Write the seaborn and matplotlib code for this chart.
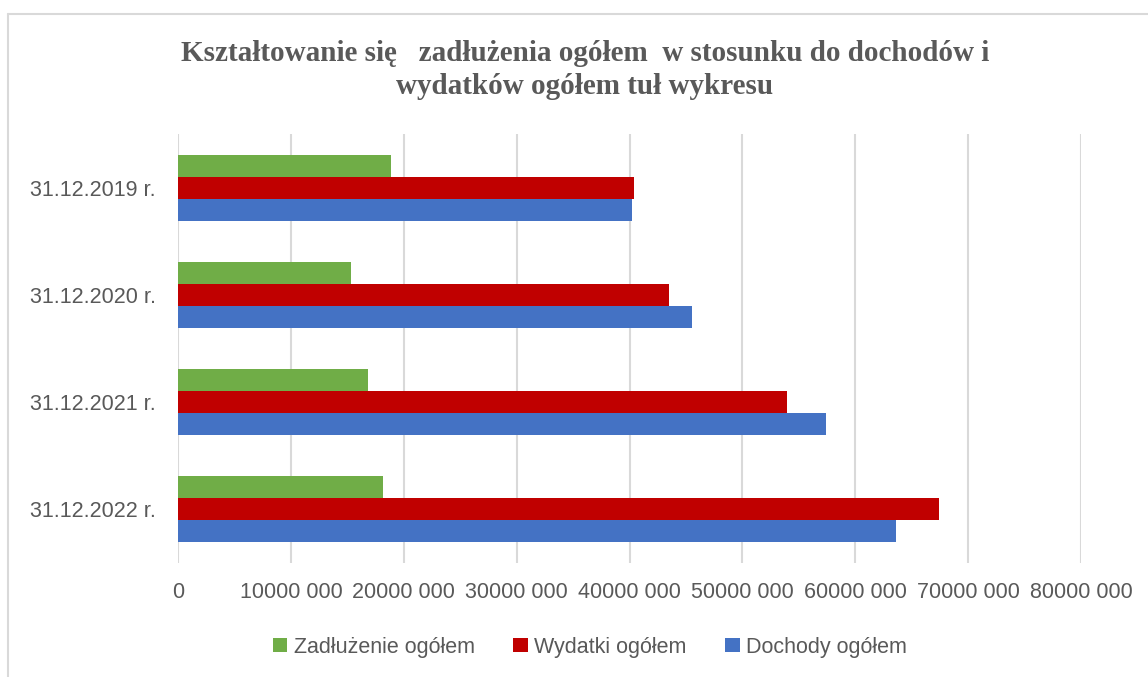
import pandas as pd
import matplotlib.pyplot as plt
import seaborn as sns
from matplotlib.lines import Line2D
from matplotlib.patches import Patch

# dane
daty = ["31.12.2019 r.", "31.12.2020 r.", "31.12.2021 r.", "31.12.2022 r."]
serie = ["Zadłużenie ogółem", "Wydatki ogółem", "Dochody ogółem"]
zadluzenie = [18870000, 15290000, 16870000, 18140000]
wydatki = [40360000, 43500000, 53930000, 67460000]
dochody = [40240000, 45550000, 57370000, 63570000]
kolory = ["#70AD47", "#C00000", "#4472C4"]
xticks = [0, 10e6, 20e6, 30e6, 40e6, 50e6, 60e6, 70e6, 80e6]
xticklabels = ["0", "10000 000", "20000 000", "30000 000", "40000 000",
               "50000 000", "60000 000", "70000 000", "80000 000"]
tytul = ("Kształtowanie się   zadłużenia ogółem  w stosunku do dochodów i\n"
         "wydatków ogółem tuł wykresu")

df = pd.DataFrame({
    "data": daty * 3,
    "seria": [s for s in serie for _ in daty],
    "wartosc": zadluzenie + wydatki + dochody,
})

sns.set_style("white")
plt.rcParams["font.family"] = ["Liberation Sans", "DejaVu Sans"]
szary = "#595959"

W, H = 1148, 677
fig = plt.figure(figsize=(W / 100, H / 100), dpi=100)
ax = fig.add_axes([178 / W, 1 - 563 / H, (1081 - 178) / W, (563 - 134) / H])

sns.barplot(data=df, y="data", x="wartosc", hue="seria", hue_order=serie,
            order=daty, palette=kolory, orient="h", width=0.615,
            saturation=1, linewidth=0, legend=False, ax=ax)

ax.set_xlim(0, 80e6)
ax.set_ylim(3.5, -0.5)
ax.set_xticks(xticks)
ax.set_xticklabels(xticklabels)
ax.xaxis.grid(True, color="#d9d9d9", linewidth=1.5)
ax.set_axisbelow(True)
for s in ax.spines.values():
    s.set_visible(False)
ax.tick_params(axis="x", length=0, pad=14, labelsize=15.5, labelcolor=szary)
ax.tick_params(axis="y", length=0, pad=16, labelsize=15.5, labelcolor=szary)
ax.set_xlabel("")
ax.set_ylabel("")

fig.text(585 / W, 1 - 70 / H, tytul, ha="center", va="center",
         family=["Liberation Serif", "DejaVu Serif"], fontweight="bold",
         fontsize=21, color=szary, linespacing=1.33)

uchwyty = [Patch(facecolor=c, edgecolor="none") for c in kolory]
lgd = fig.legend(uchwyty, serie, loc="center", ncol=3, frameon=False,
                 bbox_to_anchor=(590 / W, 1 - 647 / H), fontsize=15.5,
                 handlelength=0.67, handleheight=0.67, handletextpad=0.3,
                 columnspacing=1.8, labelcolor=szary)

# ramka wykresu
fig.add_artist(Line2D([8 / W, 8 / W], [0, 1 - 13.5 / H], color="#d9d9d9", lw=1.5))
fig.add_artist(Line2D([8 / W, 1], [1 - 13.5 / H, 1 - 13.5 / H], color="#d9d9d9", lw=1.5))

fig.savefig("out.png", dpi=100)
